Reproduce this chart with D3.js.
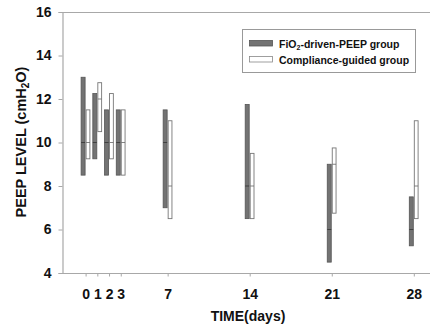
<!DOCTYPE html>
<html><head><meta charset="utf-8">
<script src="https://cdn.jsdelivr.net/npm/d3@7"></script>
<style>
html,body{margin:0;padding:0;background:#fff;}
text{font-family:"Liberation Sans",Arial,Helvetica,sans-serif;font-weight:bold;}
</style></head>
<body><svg id="c" width="430" height="328"></svg>
<script>
const days = [0, 1, 2, 3, 7, 14, 21, 28];
const fio2High = [13, 12.25, 11.5, 11.5, 11.5, 11.75, 9, 7.5];
const fio2Low = [8.5, 9.25, 8.5, 8.5, 7, 6.5, 4.5, 5.25];
const fio2Median = [10, 10, 10, 10, 10, 8, 6, 6];
const compHigh = [11.5, 12.75, 12.25, 11.5, 11, 9.5, 9.75, 11];
const compLow = [9.25, 10.5, 9.25, 8.5, 6.5, 6.5, 6.75, 6.5];
const compMedian = [10, 12, 10, 10, 8, 8, 9, 8];
const yTicks = [4, 6, 8, 10, 12, 14, 16];
const seriesNames = ["FiO\u2082-driven-PEEP group", "Compliance-guided group"];

const svg = d3.select("#c");
const x = d3.scaleLinear().domain([0, 28]).range([85.6, 413.8]);
const y = d3.scaleLinear().domain([4, 16]).range([273, 12]);
const axisColor = "#a8a8a8";

// top frame line
svg.append("line").attr("x1", 62).attr("x2", 430).attr("y1", 12.5).attr("y2", 12.5)
  .attr("stroke", axisColor).attr("stroke-width", 1.2);

// y axis
const ya = svg.append("g").attr("transform", "translate(62.5,0)")
  .call(d3.axisLeft(y).tickValues(yTicks).tickSize(4).tickPadding(7).tickFormat(d3.format("d")));
ya.select(".domain").attr("stroke", axisColor).attr("stroke-width", 1.2);
ya.selectAll(".tick line").attr("stroke", axisColor);
ya.selectAll(".tick text").attr("font-size", 14).attr("font-family", "Liberation Sans, Arial, sans-serif")
  .attr("font-weight", "bold").attr("fill", "#111");

// x axis
const xa = svg.append("g").attr("transform", "translate(0,273.5)")
  .call(d3.axisBottom(x).tickValues(days).tickSize(3).tickPadding(13).tickFormat(d3.format("d")));
xa.select(".domain").attr("d", "M60,0H430").attr("stroke", axisColor).attr("stroke-width", 1.2);
xa.selectAll(".tick line").attr("stroke", axisColor);
xa.selectAll(".tick text").attr("font-size", 14).attr("font-family", "Liberation Sans, Arial, sans-serif")
  .attr("font-weight", "bold").attr("fill", "#111");

// axis titles
svg.append("text").attr("x", 248).attr("y", 321).attr("text-anchor", "middle")
  .attr("font-size", 14).attr("fill", "#111").text("TIME(days)");
const yt = svg.append("text").attr("transform", "translate(26,142) rotate(-90)")
  .attr("text-anchor", "middle").attr("font-size", 14.5).attr("fill", "#111");
yt.append("tspan").text("PEEP LEVEL (cmH");
yt.append("tspan").attr("font-size", 10).attr("dy", 3).text("2");
yt.append("tspan").attr("dy", -3).text("O)");

// bars
const idx = d3.range(days.length);
const gG = svg.append("g");
gG.selectAll("rect").data(idx).join("rect")
  .attr("x", i => x(days[i]) - 4.5).attr("width", 4)
  .attr("y", i => y(fio2High[i])).attr("height", i => y(fio2Low[i]) - y(fio2High[i]))
  .attr("fill", "#737373").attr("stroke", "#555").attr("stroke-width", 0.8);
gG.selectAll("line").data(idx).join("line")
  .attr("x1", i => x(days[i]) - 4.5).attr("x2", i => x(days[i]) - 0.5)
  .attr("y1", i => y(fio2Median[i])).attr("y2", i => y(fio2Median[i]))
  .attr("stroke", "#333").attr("stroke-width", 0.8);
const gW = svg.append("g");
gW.selectAll("rect").data(idx).join("rect")
  .attr("x", i => x(days[i]) + 0.5).attr("width", 3.8)
  .attr("y", i => y(compHigh[i])).attr("height", i => y(compLow[i]) - y(compHigh[i]))
  .attr("fill", "#fff").attr("stroke", "#777").attr("stroke-width", 0.9);
gW.selectAll("line").data(idx).join("line")
  .attr("x1", i => x(days[i]) + 0.5).attr("x2", i => x(days[i]) + 4.3)
  .attr("y1", i => y(compMedian[i])).attr("y2", i => y(compMedian[i]))
  .attr("stroke", "#666").attr("stroke-width", 0.8);

// legend
const lg = svg.append("g");
lg.append("rect").attr("x", 242.5).attr("y", 29.5).attr("width", 173).attr("height", 43)
  .attr("fill", "#fff").attr("stroke", "#999").attr("stroke-width", 1);
const fills = ["#737373", "#fff"], strokes = ["#555", "#888"];
seriesNames.forEach((n, i) => {
  lg.append("rect").attr("x", 249.5).attr("y", 40.5 + i * 16).attr("width", 23).attr("height", 5.5)
    .attr("fill", fills[i]).attr("stroke", strokes[i]).attr("stroke-width", 0.8);
  const t = lg.append("text").attr("x", 279).attr("y", 47.5 + i * 16).attr("font-size", 10.5).attr("fill", "#111");
  if (i === 0) {
    t.append("tspan").text("FiO");
    t.append("tspan").attr("font-size", 7).attr("dy", 2).text("2");
    t.append("tspan").attr("dy", -2).text("-driven-PEEP group");
  } else t.text(n);
});
</script></body></html>
